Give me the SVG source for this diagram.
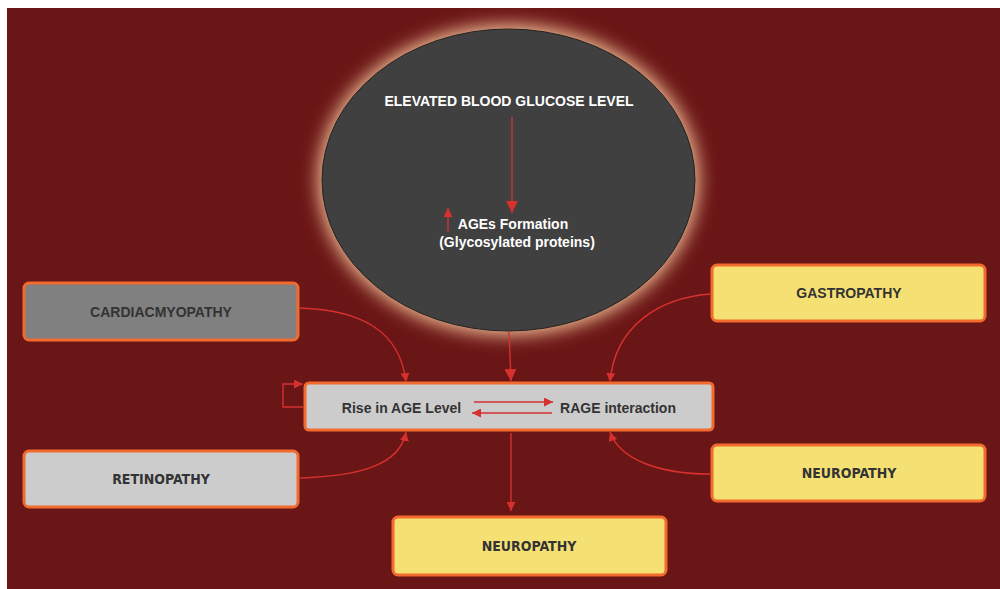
<svg xmlns="http://www.w3.org/2000/svg" width="1000" height="589" viewBox="0 0 1000 589">
<style>
.box{stroke:#f26a2e;stroke-width:3}
.t{font-family:"Liberation Sans",Arial,sans-serif;font-weight:bold;font-size:14px;fill:#333;text-anchor:middle}
.tc{font-family:"DejaVu Sans Condensed","DejaVu Sans",sans-serif;font-stretch:condensed;font-weight:bold;font-size:14px;fill:#333;text-anchor:middle}
.w{font-family:"Liberation Sans",Arial,sans-serif;font-weight:bold;font-size:14px;fill:#fff;text-anchor:middle}
.c{fill:none;stroke:#d6302f;stroke-width:1.4}
</style>
<defs>
<filter id="glow" x="-30%" y="-30%" width="160%" height="160%"><feGaussianBlur stdDeviation="9"/></filter>
<marker id="a" viewBox="0 0 10 10" refX="10" refY="5" markerWidth="9" markerHeight="9" markerUnits="userSpaceOnUse" orient="auto"><path d="M0,0L10,5L0,10z" fill="#d6302f"/></marker>
<marker id="b" viewBox="0 0 10 10" refX="10" refY="5" markerWidth="12" markerHeight="12" markerUnits="userSpaceOnUse" orient="auto"><path d="M0,0L10,5L0,10z" fill="#d6302f"/></marker>
</defs>
<rect x="7" y="8" width="993" height="581" fill="#6b1616"/>
<g id="glucose">
<ellipse cx="508.5" cy="180" rx="190" ry="155" fill="#f6c59a" filter="url(#glow)"/>
<ellipse cx="508.5" cy="180" rx="186.5" ry="151" fill="#404040" stroke="#222" stroke-width="1"/>
<text class="w" x="509" y="106">ELEVATED BLOOD GLUCOSE LEVEL</text>
<text class="w" x="513" y="229">AGEs Formation</text>
<text class="w" x="517" y="247">(Glycosylated proteins)</text>
</g>
<g id="age">
<rect class="box" x="305" y="383" width="408" height="47" rx="4" fill="#cccccc"/>
<text class="t" x="401.5" y="413" font-size="14.6">Rise in AGE Level</text>
<text class="t" x="618" y="413" font-size="14.6">RAGE interaction</text>
</g>
<g id="cardiac">
<rect class="box" x="24" y="283" width="274" height="57" rx="5" fill="#808080"/>
<text class="t" x="161" y="317">CARDIACMYOPATHY</text>
</g>
<g id="gastro">
<rect class="box" x="712" y="265" width="273" height="56" rx="5" fill="#f5e173"/>
<text class="t" x="849" y="298">GASTROPATHY</text>
</g>
<g id="retino">
<rect class="box" x="24" y="451" width="274" height="56" rx="5" fill="#cccccc"/>
<text class="tc" x="161" y="484">RETINOPATHY</text>
</g>
<g id="neuro1">
<rect class="box" x="712" y="445" width="273" height="56" rx="5" fill="#f5e173"/>
<text class="tc" x="849" y="478">NEUROPATHY</text>
</g>
<g id="neuro2">
<rect class="box" x="393" y="517" width="273" height="58" rx="5" fill="#f5e173"/>
<text class="tc" x="529" y="551">NEUROPATHY</text>
</g>
<g id="connectors">
<path class="c" d="M512,117V213" stroke-width="2.4" marker-end="url(#b)"/>
<path class="c" d="M448,232V208" marker-end="url(#a)"/>
<path class="c" d="M509,332L511,381" stroke-width="2.4" marker-end="url(#b)"/>
<path class="c" d="M474,402H553" marker-end="url(#a)"/>
<path class="c" d="M552,413H472" marker-end="url(#a)"/>
<path class="c" d="M303,407H283V384H303" marker-end="url(#a)"/>
<path class="c" d="M300,308C360,310 400,330 406,382" marker-end="url(#a)"/>
<path class="c" d="M710,294C660,298 615,325 610,382" marker-end="url(#a)"/>
<path class="c" d="M300,478C360,476 400,465 406,432" marker-end="url(#a)"/>
<path class="c" d="M710,474C660,474 620,460 610,432" marker-end="url(#a)"/>
<path class="c" d="M511,433V511" marker-end="url(#a)"/>
</g>
</svg>
